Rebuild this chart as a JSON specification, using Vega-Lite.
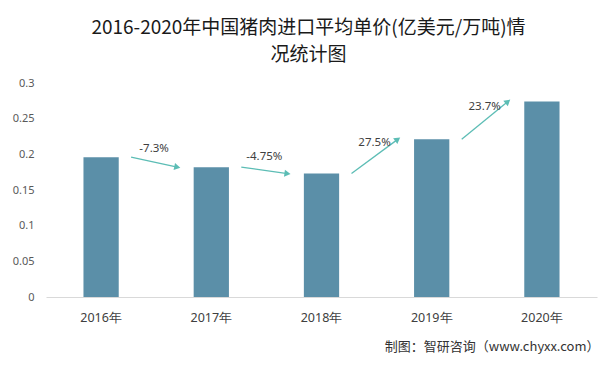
{
  "$schema": "https://vega.github.io/schema/vega-lite/v6.json",
  "width": 551,
  "height": 214,
  "autosize": {"type": "none"},
  "padding": {"left": 46, "top": 83, "right": 19, "bottom": 72},
  "background": "white",
  "title": {
    "text": ["2016-2020年中国猪肉进口平均单价(亿美元/万吨)情", "况统计图"],
    "anchor": "middle",
    "frame": "group",
    "offset": 12,
    "dx": -13,
    "font": "Noto Sans CJK SC",
    "fontSize": 19,
    "fontWeight": "normal",
    "color": "#1a1a1a",
    "lineHeight": 27
  },
  "datasets": {
    "bars": [
      {"year": "2016年", "value": 0.196},
      {"year": "2017年", "value": 0.182},
      {"year": "2018年", "value": 0.173},
      {"year": "2019年", "value": 0.221},
      {"year": "2020年", "value": 0.274}
    ],
    "arrows": [
      {"from": "2016年", "to": "2017年", "v1": 0.196, "v2": 0.182, "label": "-7.3%"},
      {"from": "2017年", "to": "2018年", "v1": 0.182, "v2": 0.173, "label": "-4.75%"},
      {"from": "2018年", "to": "2019年", "v1": 0.173, "v2": 0.221, "label": "27.5%"},
      {"from": "2019年", "to": "2020年", "v1": 0.221, "v2": 0.274, "label": "23.7%"}
    ]
  },
  "config": {
    "view": {"stroke": null},
    "font": "Noto Sans",
    "axis": {"grid": false, "ticks": false}
  },
  "layer": [
    {
      "data": {"name": "bars"},
      "mark": {"type": "bar", "color": "#5b8fa8"},
      "encoding": {
        "x": {
          "field": "year", "type": "nominal", "sort": null,
          "scale": {"paddingInner": 0.68, "paddingOuter": 0.34},
          "axis": {
            "labelAngle": 0, "labelFontSize": 12.5, "labelColor": "#404040",
            "labelPadding": 14, "domainColor": "#d9d9d9",
            "title": "制图：智研咨询（www.chyxx.com）",
            "titleFont": "Noto Sans CJK SC", "titleFontSize": 13,
            "titleFontWeight": "normal", "titleColor": "#333333",
            "titleAnchor": "end", "titleAlign": "right",
            "titleX": 553, "titleY": 43
          }
        },
        "y": {
          "field": "value", "type": "quantitative",
          "scale": {"domain": [0, 0.3]},
          "axis": {
            "title": null, "values": [0, 0.05, 0.1, 0.15, 0.2, 0.25, 0.3],
            "labelOverlap": false, "labelFlush": false,
            "domain": false, "labelFontSize": 11, "labelColor": "#595959",
            "labelPadding": 12, "format": "~g"
          }
        }
      }
    },
    {
      "data": {"name": "arrows"},
      "mark": {"type": "rule", "color": "#5cbdb5", "strokeWidth": 1.3, "xOffset": 30, "x2Offset": -34},
      "encoding": {
        "x": {"field": "from", "type": "nominal"},
        "x2": {"field": "to"},
        "y": {
          "field": "v1", "type": "quantitative",
          "axis": {
            "title": null, "values": [0, 0.05, 0.1, 0.15, 0.2, 0.25, 0.3],
            "labelOverlap": false, "labelFlush": false,
            "domain": false, "labelFontSize": 11, "labelColor": "#595959",
            "labelPadding": 12, "format": "~g"
          }
        },
        "y2": {"field": "v2"}
      }
    },
    {
      "data": {"name": "arrows"},
      "mark": {
        "type": "point", "shape": "triangle-up", "filled": true,
        "color": "#5cbdb5", "opacity": 1, "size": 50, "xOffset": -34,
        "angle": {"expr": "atan2((scale('x', datum.to) - 34) - (scale('x', datum.from) + 30), -(scale('y', datum.v2) - scale('y', datum.v1))) * 180 / PI"}
      },
      "encoding": {
        "x": {"field": "to", "type": "nominal"},
        "y": {
          "field": "v2", "type": "quantitative",
          "axis": {
            "title": null, "values": [0, 0.05, 0.1, 0.15, 0.2, 0.25, 0.3],
            "labelOverlap": false, "labelFlush": false,
            "domain": false, "labelFontSize": 11, "labelColor": "#595959",
            "labelPadding": 12, "format": "~g"
          }
        }
      }
    },
    {
      "data": {"name": "arrows"},
      "mark": {
        "type": "text", "fontSize": 11.5, "color": "#404040", "xOffset": 53,
        "y": {"expr": "(scale('y', datum.v1) + scale('y', datum.v2)) / 2 - 13"}
      },
      "encoding": {
        "x": {"field": "from", "type": "nominal"},
        "text": {"field": "label"}
      }
    }
  ]
}
